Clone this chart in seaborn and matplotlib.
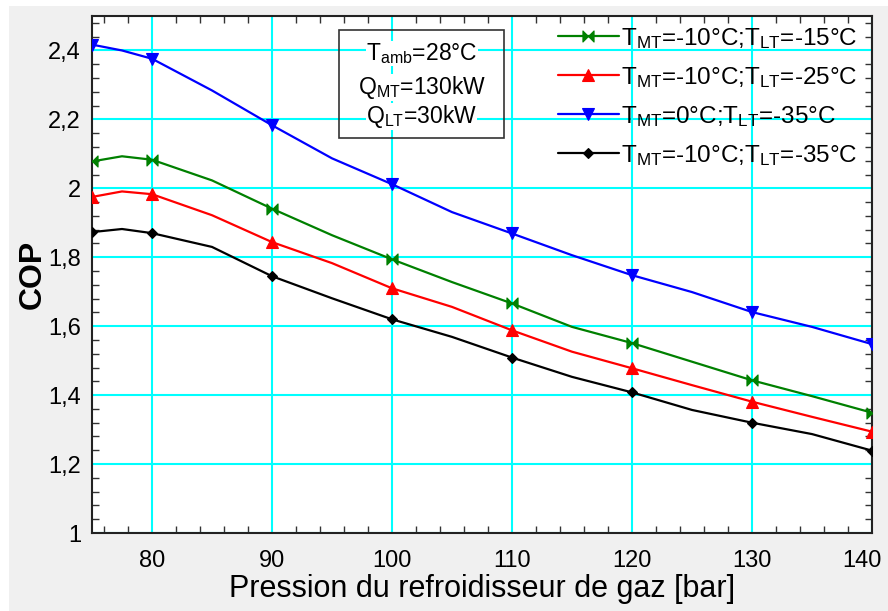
import numpy as np
import pandas as pd
import seaborn as sns
import matplotlib
matplotlib.use("Agg")
import matplotlib.pyplot as plt
from matplotlib.path import Path
from matplotlib.patches import Rectangle
from matplotlib.ticker import MultipleLocator, FuncFormatter

# Gas-cooler pressure [bar]
pression = [75, 77.5, 80, 85, 90, 95, 100, 105, 110, 115, 120, 125, 130, 135, 140]

# COP for each operating condition
cop_mt10_lt15 = [2.078, 2.093, 2.083, 2.023, 1.941, 1.864, 1.794, 1.728, 1.666, 1.598, 1.551, 1.497, 1.443, 1.397, 1.349]
cop_mt10_lt25 = [1.975, 1.991, 1.983, 1.922, 1.844, 1.783, 1.710, 1.656, 1.588, 1.526, 1.478, 1.429, 1.381, 1.337, 1.294]
cop_mt0_lt35 = [2.417, 2.400, 2.376, 2.284, 2.183, 2.087, 2.012, 1.931, 1.869, 1.806, 1.748, 1.699, 1.641, 1.598, 1.548]
cop_mt10_lt35 = [1.873, 1.882, 1.870, 1.830, 1.745, 1.681, 1.620, 1.569, 1.509, 1.453, 1.408, 1.357, 1.320, 1.287, 1.239]

labels = [
    r"T$_{\mathrm{MT}}$=-10°C;T$_{\mathrm{LT}}$=-15°C",
    r"T$_{\mathrm{MT}}$=-10°C;T$_{\mathrm{LT}}$=-25°C",
    r"T$_{\mathrm{MT}}$=0°C;T$_{\mathrm{LT}}$=-35°C",
    r"T$_{\mathrm{MT}}$=-10°C;T$_{\mathrm{LT}}$=-35°C",
]
info_lines = [
    r"T$_{\mathrm{amb}}$=28°C",
    r"Q$_{\mathrm{MT}}$=130kW",
    r"Q$_{\mathrm{LT}}$=30kW",
]

sns.set_theme(style="white")
plt.rcParams["font.family"] = ["Liberation Sans", "DejaVu Sans"]
plt.rcParams["mathtext.fontset"] = "custom"
plt.rcParams["mathtext.rm"] = "Liberation Sans"
plt.rcParams["mathtext.it"] = "Liberation Sans"
plt.rcParams["mathtext.bf"] = "Liberation Sans:bold"
plt.rcParams["text.color"] = "black"
plt.rcParams["axes.labelcolor"] = "black"
plt.rcParams["xtick.labelcolor"] = "black"
plt.rcParams["ytick.labelcolor"] = "black"

# horizontal bow-tie marker
bowtie = Path([(-1, -1), (1, 1), (1, -1), (-1, 1), (-1, -1)],
              [Path.MOVETO, Path.LINETO, Path.LINETO, Path.LINETO, Path.CLOSEPOLY])

series = [
    (cop_mt10_lt15, "#008000", bowtie, 8),
    (cop_mt10_lt25, "#ff0000", "^", 8),
    (cop_mt0_lt35, "#0000ff", "v", 8),
    (cop_mt10_lt35, "#000000", "D", 5),
]
mark_idx = [0, 2, 4, 6, 8, 10, 12, 14]

fig = plt.figure(figsize=(8.88, 6.11), dpi=100, facecolor="white")
fig.patches.append(Rectangle((9 / 888, 0), 1, 1 - 6 / 611, transform=fig.transFigure,
                             facecolor="#f0f0f0", edgecolor="none", zorder=-10))
ax = fig.add_axes([92 / 888, 1 - 533 / 611, 780 / 888, 517 / 611])
ax.set_facecolor("white")

for (vals, col, mk, ms), lab in zip(series, labels):
    df = pd.DataFrame({"p": pression, "cop": vals})
    sns.lineplot(data=df, x="p", y="cop", ax=ax, color=col, linewidth=1.6,
                 marker=mk, markersize=ms, markevery=mark_idx, markeredgewidth=0.8,
                 markeredgecolor=col, label=lab, legend=False, zorder=3)

x_max = 140
ax.set_xlim(75, x_max)
ax.set_ylim(1, 2.5)
ax.xaxis.set_major_locator(MultipleLocator(10))
ax.xaxis.set_minor_locator(MultipleLocator(2))
ax.yaxis.set_major_locator(MultipleLocator(0.2))
ax.yaxis.set_minor_locator(MultipleLocator(0.04))
ax.yaxis.set_major_formatter(FuncFormatter(lambda v, p: ("%g" % round(v, 2)).replace(".", ",")))
# the right-most pressure label is drawn separately, nudged inside the window
ax.xaxis.set_major_formatter(FuncFormatter(lambda v, p: "" if abs(v - x_max) < 1e-6 else "%g" % v))
ax.annotate("%g" % x_max, xy=(x_max, 0), xycoords=("data", "axes fraction"),
            xytext=(-7, -12), textcoords="offset points", ha="center", va="top",
            fontsize=17, color="black", annotation_clip=False)

ax.grid(True, which="major", color="#00ffff", linewidth=1.5, zorder=0)
ax.set_axisbelow(True)
ax.tick_params(which="both", direction="in", top=True, right=True, bottom=True, left=True,
               color="#333333", labelsize=17, labelcolor="black")
ax.tick_params(axis="x", pad=12)
ax.tick_params(axis="y", pad=8)
ax.tick_params(which="major", length=0)
ax.tick_params(which="minor", length=5, width=1)
for s in ax.spines.values():
    s.set_color("#222222")
    s.set_linewidth(1.5)

ax.set_xlabel("Pression du refroidisseur de gaz [bar]", fontsize=22, labelpad=2, color="black")
ax.set_ylabel("COP", fontsize=23, fontweight="bold", labelpad=0, color="black")

# operating-condition box
ax.add_patch(Rectangle((0.317, 0.764), 0.211, 0.209, transform=ax.transAxes,
                       facecolor="none", edgecolor="#333333", linewidth=1.2, zorder=4))
for y, t in zip([0.928, 0.862, 0.805], info_lines):
    ax.text(0.423, y, t, transform=ax.transAxes, ha="center", va="center", fontsize=16.5,
            color="black", zorder=5, bbox=dict(facecolor="white", edgecolor="none", pad=0))

leg = ax.legend(loc="upper left", bbox_to_anchor=(0.585, 1.0), frameon=False,
                fontsize=17.5, handlelength=2.5, handletextpad=0.1, labelspacing=0.58,
                borderaxespad=0, labelcolor="black")
leg.set_zorder(6)

fig.savefig("out.png", dpi=100, facecolor=fig.get_facecolor())
